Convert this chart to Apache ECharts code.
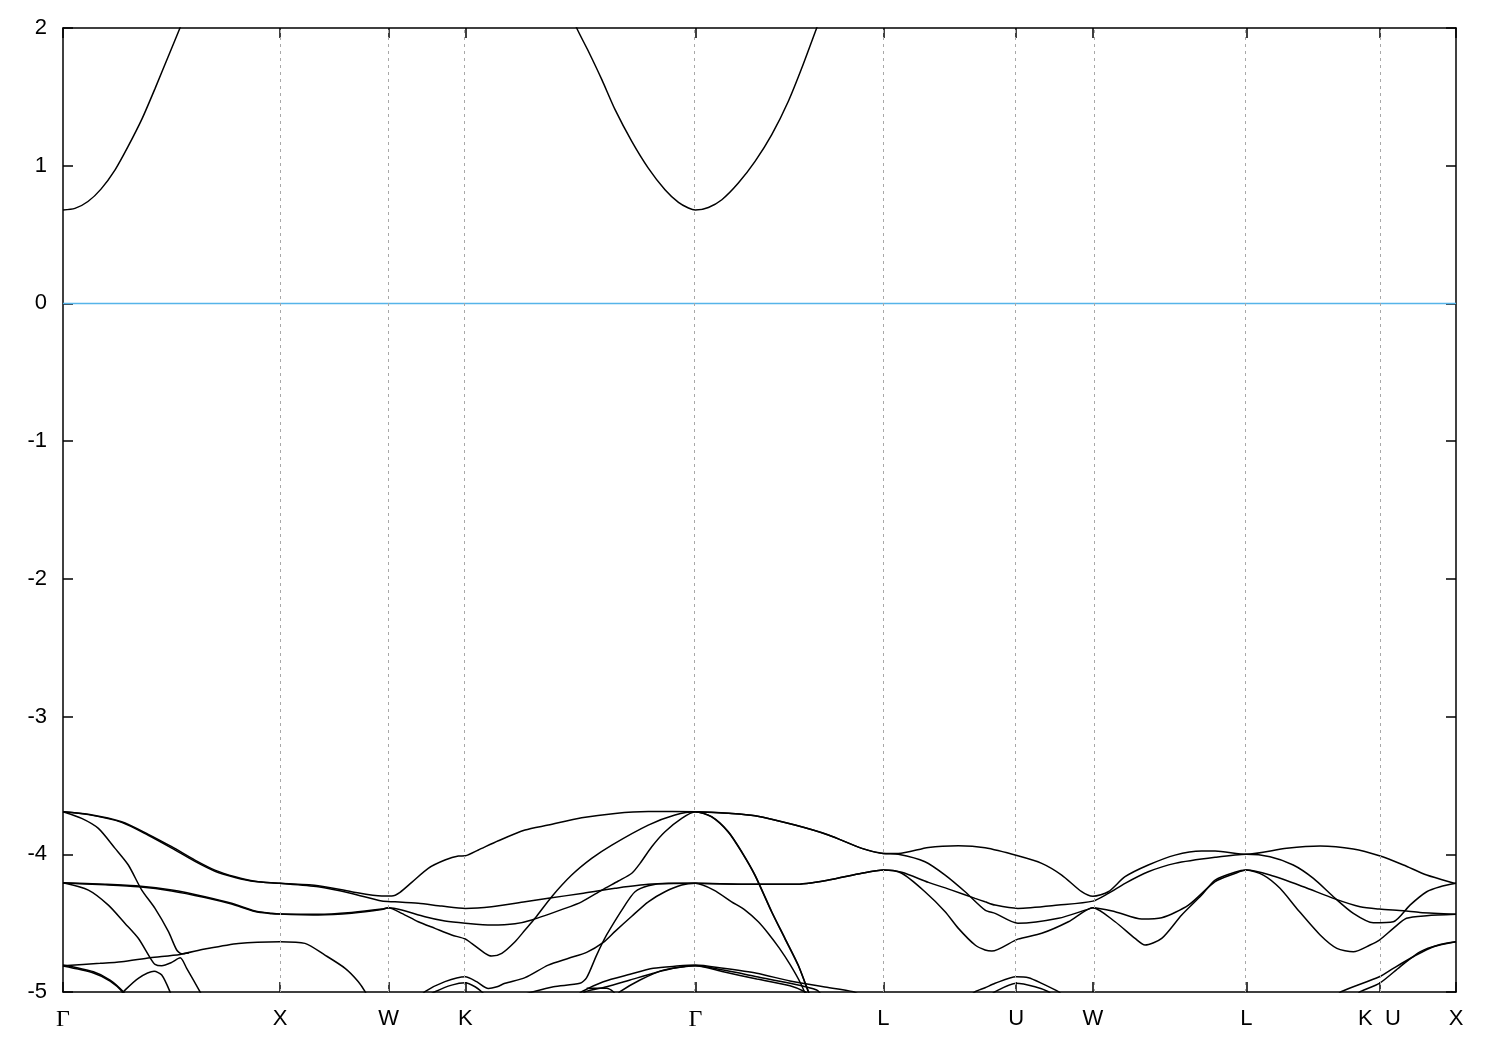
<!DOCTYPE html>
<html><head><meta charset="utf-8">
<script src="https://cdn.jsdelivr.net/npm/echarts@6/dist/echarts.min.js"></script>
<style>html,body{margin:0;padding:0;background:#fff}#c{width:1500px;height:1050px}</style>
</head><body><div id="c"></div>
<script>
// High-symmetry points along the path (k-distance) and their labels
const kTicks = [0, 1, 1.5, 1.854, 2.914, 3.780, 4.392, 4.746, 5.453, 6.066, 6.419];
const kLabels = ['Γ', 'X', 'W', 'K', 'Γ', 'L', 'U', 'W', 'L', 'K  U', 'X'];
const yTicks = [-5, -4, -3, -2, -1, 0, 1, 2];
const fermiLevel = 0;

// Conduction band
const cbLeft = [[0,0.678],[0.055,0.69],[0.115,0.74],[0.175,0.83],[0.240,0.97],[0.300,1.14],[0.364,1.34],[0.424,1.56],[0.484,1.79],[0.539,2.0],[0.60,2.24]];
const cbMid = [[2.315,2.2],[2.367,2.0],[2.421,1.831],[2.483,1.625],[2.544,1.407],[2.621,1.177],[2.697,0.983],[2.774,0.826],[2.836,0.734],[2.882,0.693],[2.914,0.678],[2.974,0.697],[3.036,0.753],[3.112,0.874],[3.189,1.031],[3.266,1.225],[3.343,1.47],[3.407,1.72],[3.473,2.0],[3.52,2.2]];

// Valence bands
const bandT1 = [[0,-3.691],[0.117,-3.710],[0.270,-3.764],[0.393,-3.855],[0.501,-3.945],[0.608,-4.042],[0.700,-4.115],[0.793,-4.163],[0.885,-4.195],[1.0,-4.211],
  [1.176,-4.228],[1.330,-4.272],[1.469,-4.303],[1.515,-4.303],[1.553,-4.276],[1.607,-4.204],[1.683,-4.102],[1.760,-4.042],[1.822,-4.013],[1.854,-4.011],
  [1.914,-3.969],[2.006,-3.902],[2.129,-3.824],[2.236,-3.788],[2.390,-3.735],[2.544,-3.703],[2.697,-3.690],[2.914,-3.691],
  [3.081,-3.703],[3.189,-3.720],[3.373,-3.788],[3.527,-3.860],[3.681,-3.957],[3.780,-3.994],
  [3.849,-3.994],[3.988,-3.950],[4.126,-3.938],[4.249,-3.953],[4.400,-4.011],[4.510,-4.066],[4.602,-4.151],[4.694,-4.272],[4.746,-4.305],[4.817,-4.272],[4.894,-4.163],[5.001,-4.078],[5.124,-4.006],[5.247,-3.977],[5.309,-3.977],[5.453,-4.000],
  [5.639,-3.957],[5.793,-3.940],[5.946,-3.962],[6.066,-4.011],[6.177,-4.078],[6.284,-4.151],[6.407,-4.208],[6.419,-4.211]];
const bandT2 = [[0,-3.691],[0.117,-3.712],[0.270,-3.768],[0.393,-3.862],[0.501,-3.955],[0.608,-4.052],[0.700,-4.123],[0.793,-4.168],[0.885,-4.198],[1.0,-4.211],
  [1.176,-4.236],[1.330,-4.284],[1.469,-4.340],[1.530,-4.345],[1.637,-4.356],[1.745,-4.376],[1.854,-4.393],[1.975,-4.381],[2.129,-4.345],
  [2.236,-4.320],[2.390,-4.284],[2.544,-4.247],[2.697,-4.218],[2.914,-4.211],
  [3.143,-4.218],[3.373,-4.218],[3.527,-4.187],[3.681,-4.138],[3.780,-4.115],
  [3.865,-4.131],[3.988,-4.204],[4.095,-4.260],[4.203,-4.320],[4.249,-4.345],[4.295,-4.369],[4.400,-4.393],[4.587,-4.369],[4.746,-4.340],
  [4.817,-4.284],[4.894,-4.211],[5.001,-4.127],[5.124,-4.066],[5.309,-4.022],[5.453,-4.000],
  [5.562,-4.018],[5.669,-4.078],[5.762,-4.175],[5.854,-4.308],[5.946,-4.429],[6.038,-4.497],[6.130,-4.490],[6.207,-4.369],[6.284,-4.272],[6.346,-4.236],[6.419,-4.211]];
const bandA3 = [[2.914,-3.691],[3.081,-3.703],[3.189,-3.720],[3.373,-3.788],[3.527,-3.860],[3.681,-3.957],[3.780,-3.994],
  [3.849,-4.000],[3.972,-4.054],[4.065,-4.151],[4.157,-4.272],[4.249,-4.405],[4.295,-4.429],[4.400,-4.501],[4.587,-4.465],[4.725,-4.398],[4.746,-4.388],
  [4.848,-4.417],[4.971,-4.470],[5.063,-4.461],[5.186,-4.369],[5.309,-4.199],[5.400,-4.14],[5.453,-4.115],
  [5.562,-4.151],[5.716,-4.236],[5.854,-4.320],[5.977,-4.381],[6.066,-4.398],[6.177,-4.410],[6.253,-4.422],[6.419,-4.436]];
const bandC3 = [[2.914,-4.211],[3.143,-4.218],[3.373,-4.218],[3.527,-4.187],[3.681,-4.138],[3.780,-4.115],
  [3.865,-4.138],[3.972,-4.272],[4.065,-4.417],[4.126,-4.538],[4.203,-4.659],[4.249,-4.695],[4.280,-4.703],[4.400,-4.616],[4.510,-4.574],[4.633,-4.490],[4.746,-4.388],
  [4.848,-4.490],[4.940,-4.611],[4.986,-4.659],[5.063,-4.611],[5.155,-4.441],[5.247,-4.296],[5.309,-4.187],[5.400,-4.13],[5.453,-4.115],
  [5.531,-4.151],[5.608,-4.247],[5.685,-4.393],[5.793,-4.586],[5.870,-4.683],[5.946,-4.708],[6.023,-4.659],[6.066,-4.623],[6.130,-4.538],[6.191,-4.465],[6.284,-4.446],[6.419,-4.436]];
const bandH2 = [[0,-4.207],[0.194,-4.218],[0.347,-4.231],[0.501,-4.260],[0.654,-4.308],[0.777,-4.356],[0.885,-4.412],[0.962,-4.429],[1.0,-4.434],
  [1.176,-4.436],[1.330,-4.422],[1.469,-4.398],[1.5,-4.388],
  [1.561,-4.405],[1.668,-4.454],[1.760,-4.485],[1.854,-4.501],[1.975,-4.514],[2.083,-4.505],[2.160,-4.477],[2.313,-4.393],[2.390,-4.345],[2.483,-4.260],[2.559,-4.194],[2.621,-4.138],[2.659,-4.066],[2.713,-3.945],[2.774,-3.836],[2.851,-3.739],[2.914,-3.691],
  [2.989,-3.727],[3.066,-3.836],[3.128,-3.982],[3.189,-4.151],[3.266,-4.417],[3.327,-4.610],[3.388,-4.804],[3.435,-4.998],[3.46,-5.1]];
const bandH2b = [[0,-4.209],[0.194,-4.222],[0.347,-4.236],[0.501,-4.266],[0.654,-4.314],[0.777,-4.362],[0.885,-4.416],[0.962,-4.431],[1.0,-4.434],
  [1.176,-4.440],[1.330,-4.428],[1.469,-4.401],[1.5,-4.388],
  [1.561,-4.429],[1.637,-4.490],[1.714,-4.538],[1.791,-4.586],[1.854,-4.615],[1.883,-4.647],[1.945,-4.719],[1.975,-4.739],[2.022,-4.719],[2.083,-4.635],[2.129,-4.550],[2.175,-4.465],[2.252,-4.308],[2.344,-4.151],[2.436,-4.030],[2.529,-3.933],[2.697,-3.788],[2.820,-3.715],[2.914,-3.691],
  [2.989,-3.729],[3.066,-3.840],[3.128,-3.986],[3.189,-4.155],[3.266,-4.421],[3.327,-4.614],[3.388,-4.808],[3.435,-5.0],[3.46,-5.1]];
const bandS = [[0,-3.691],[0.086,-3.739],[0.163,-3.812],[0.240,-3.957],[0.301,-4.078],[0.363,-4.260],[0.424,-4.393],[0.486,-4.562],[0.524,-4.695],[0.547,-4.722],[0.580,-4.716]];
const bandD = [[0,-4.207],[0.117,-4.260],[0.209,-4.369],[0.286,-4.502],[0.347,-4.610],[0.401,-4.750],[0.424,-4.799],[0.455,-4.809],[0.501,-4.785],[0.540,-4.752],[0.570,-4.828],[0.631,-4.998],[0.65,-5.06]];
const bandC = [[0,-4.809],[0.171,-4.792],[0.270,-4.780],[0.401,-4.751],[0.539,-4.727],[0.654,-4.688],[0.808,-4.647],[1.0,-4.635],[1.115,-4.647],[1.207,-4.732],[1.300,-4.828],[1.361,-4.925],[1.392,-4.998],[1.41,-5.06]];
const bandBL1 = [[0,-4.804],[0.140,-4.853],[0.217,-4.913],[0.278,-4.998],[0.30,-5.05]];
const bandBL2 = [[0,-4.812],[0.140,-4.862],[0.217,-4.921],[0.275,-5.0],[0.29,-5.05]];
const bandBump = [[0.26,-5.03],[0.278,-4.998],[0.347,-4.901],[0.420,-4.850],[0.455,-4.877],[0.493,-4.998],[0.51,-5.08]];
const bandKlow = [[1.68,-5.03],[1.714,-4.998],[1.791,-4.950],[1.854,-4.933],[1.899,-4.962],[1.929,-4.998],[1.95,-5.03]];
const band4 = [[1.64,-5.05],[1.668,-4.998],[1.760,-4.925],[1.854,-4.889],[1.906,-4.925],[1.960,-4.975],[2.000,-4.962],[2.037,-4.937],[2.129,-4.896],[2.236,-4.805],[2.330,-4.755],[2.413,-4.712],[2.490,-4.640],[2.544,-4.560],[2.621,-4.450],[2.697,-4.345],[2.774,-4.272],[2.851,-4.223],[2.914,-4.211],
  [2.999,-4.260],[3.081,-4.345],[3.143,-4.405],[3.204,-4.490],[3.250,-4.575],[3.300,-4.680],[3.350,-4.80],[3.400,-4.94],[3.43,-5.05]];
const band5 = [[2.10,-5.03],[2.167,-4.998],[2.260,-4.962],[2.382,-4.937],[2.413,-4.896],[2.459,-4.732],[2.505,-4.586],[2.590,-4.369],[2.636,-4.272],[2.697,-4.228],[2.789,-4.211],[2.914,-4.211]];
const bandLd = [[2.413,-4.973],[2.505,-4.973],[2.536,-4.998],[2.55,-5.03]];
const bandLa = [[2.37,-5.03],[2.390,-4.998],[2.490,-4.925],[2.613,-4.871],[2.720,-4.828],[2.828,-4.812],[2.914,-4.804],[3.043,-4.828],[3.197,-4.864],[3.350,-4.920],[3.504,-4.962],[3.642,-4.998],[3.68,-5.03]];
const bandLb = [[2.39,-5.03],[2.406,-4.998],[2.505,-4.962],[2.613,-4.913],[2.720,-4.864],[2.812,-4.828],[2.914,-4.809],[3.043,-4.841],[3.197,-4.889],[3.350,-4.937],[3.473,-4.986],[3.50,-5.03]];
const bandLc = [[2.55,-5.03],[2.567,-4.998],[2.659,-4.913],[2.766,-4.841],[2.874,-4.812],[2.914,-4.809],[3.043,-4.853],[3.197,-4.906],[3.350,-4.954],[3.419,-4.998],[3.44,-5.03]];
const bandUup = [[4.18,-5.03],[4.203,-4.998],[4.249,-4.969],[4.295,-4.937],[4.392,-4.889],[4.449,-4.896],[4.510,-4.937],[4.587,-4.998],[4.61,-5.03]];
const bandUlow = [[4.27,-5.03],[4.295,-4.998],[4.392,-4.937],[4.479,-4.962],[4.541,-4.998],[4.56,-5.03]];
const bandKr1 = [[5.87,-5.03],[5.889,-4.998],[6.066,-4.889],[6.130,-4.828],[6.222,-4.744],[6.315,-4.671],[6.419,-4.635]];
const bandKr2 = [[5.96,-5.03],[5.977,-4.998],[6.066,-4.937],[6.161,-4.817],[6.253,-4.708],[6.346,-4.655],[6.419,-4.635]];

const blackBands = [cbLeft, cbMid, bandT1, bandT2, bandA3, bandC3, bandH2, bandH2b, bandS, bandD, bandC,
  bandBL1, bandBL2, bandBump, bandKlow, band4, band5, bandLd, bandLa, bandLb, bandLc, bandUup, bandUlow, bandKr1, bandKr2];

const kMin = kTicks[0], kMax = kTicks[kTicks.length - 1];
const chart = echarts.init(document.getElementById('c'), null, {renderer: 'canvas'});

const lblFont = {fontFamily: 'Liberation Sans, Arial, sans-serif', fontSize: 22, color: '#000'};
const series = blackBands.map(d => ({
  type: 'line', data: d, showSymbol: false, symbol: 'none', smooth: 0.25, clip: true,
  lineStyle: {color: '#000', width: 1.5}, silent: true, z: 3
}));
series.unshift({
  type: 'line', data: [[kMin, fermiLevel], [kMax, fermiLevel]], showSymbol: false, symbol: 'none',
  lineStyle: {color: '#56b4e9', width: 1.5}, silent: true, z: 2,
  markLine: {
    silent: true, symbol: ['none', 'none'], label: {show: false},
    lineStyle: {color: '#a8a8a8', width: 1, type: [3, 4]},
    data: kTicks.slice(1, -1).map(v => ({xAxis: v}))
  }
});

chart.setOption({
  animation: false,
  backgroundColor: '#fff',
  grid: {left: 63, top: 28, width: 1393, height: 964, show: false},
  xAxis: [{
    type: 'value', min: kMin, max: kMax, position: 'bottom',
    axisLine: {show: true, onZero: false, lineStyle: {color: '#000', width: 1.5}},
    axisTick: {show: true, inside: true, length: 10, customValues: kTicks, lineStyle: {color: '#000', width: 1.5}},
    axisLabel: {show: true, customValues: kTicks, margin: 16, showMinLabel: true, showMaxLabel: true,
      ...lblFont,
      formatter: v => {
        const s = kLabels[kTicks.indexOf(v)] || '';
        return s === 'Γ' ? '{g|Γ}' : s;
      },
      rich: {g: {fontFamily: 'Liberation Serif, Times New Roman, serif', fontSize: 24, color: '#000'}}
    },
    splitLine: {show: false}
  }, {
    type: 'value', min: kMin, max: kMax, position: 'top',
    axisLine: {show: true, onZero: false, lineStyle: {color: '#000', width: 1.5}},
    axisTick: {show: true, inside: true, length: 10, customValues: kTicks, lineStyle: {color: '#000', width: 1.5}},
    axisLabel: {show: false}, splitLine: {show: false}
  }],
  yAxis: [{
    type: 'value', min: yTicks[0], max: yTicks[yTicks.length - 1], interval: 1, position: 'left',
    axisLine: {show: true, onZero: false, lineStyle: {color: '#000', width: 1.5}},
    axisTick: {show: true, inside: true, length: 10, lineStyle: {color: '#000', width: 1.5}},
    axisLabel: {show: true, margin: 16, ...lblFont},
    splitLine: {show: false}
  }, {
    type: 'value', min: yTicks[0], max: yTicks[yTicks.length - 1], interval: 1, position: 'right',
    axisLine: {show: true, onZero: false, lineStyle: {color: '#000', width: 1.5}},
    axisTick: {show: true, inside: true, length: 10, lineStyle: {color: '#000', width: 1.5}},
    axisLabel: {show: false}, splitLine: {show: false}
  }],
  series: series
});
</script>
</body></html>
